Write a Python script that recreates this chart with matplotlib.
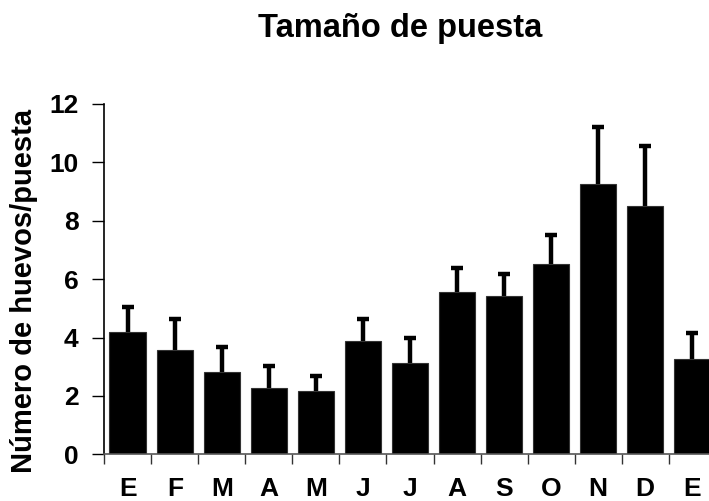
import matplotlib
matplotlib.use("Agg")
import matplotlib.pyplot as plt
import numpy as np

months = ["E", "F", "M", "A", "M", "J", "J", "A", "S", "O", "N", "D", "E"]
means = [4.18, 3.56, 2.83, 2.28, 2.17, 3.88, 3.14, 5.57, 5.42, 6.51, 9.26, 8.51, 3.25]
upper = [5.03, 4.64, 3.68, 3.03, 2.69, 4.64, 3.97, 6.37, 6.19, 7.50, 11.22, 10.56, 4.17]
yticks = [0, 2, 4, 6, 8, 10, 12]

plt.rcParams['font.family'] = ['Liberation Sans', 'DejaVu Sans']
plt.rcParams['font.weight'] = 'bold'

fig = plt.figure(figsize=(7.09, 5.01), dpi=100)
W, H = 709, 501
left, right = 104.3, 715.7
bottom, top = 454.3, 104.0
ax = fig.add_axes([left / W, 1 - bottom / H, (right - left) / W, (bottom - top) / H])

x = np.arange(len(months))
err = np.array(upper) - np.array(means)
ax.bar(x, means, width=0.78, color='black', edgecolor='#333333', linewidth=0.8, zorder=2)
eb = ax.errorbar(x, means, yerr=[np.zeros_like(err), err], fmt='none', ecolor='black',
                 elinewidth=3.2, capsize=4.5, capthick=3.2, zorder=1)
eb[1][0].set_visible(False)

ax.set_xlim(-0.5, len(months) - 0.5)
ax.set_ylim(0, 12)
ax.set_yticks(yticks)
ax.set_yticklabels([str(v) for v in yticks], fontsize=19, fontweight='bold')
ax.set_xticks(x)
ax.set_xticklabels(months, fontsize=19, fontweight='bold')
ax.set_xticks(np.arange(len(months)) - 0.5, minor=True)
ax.tick_params(axis='x', which='major', length=0, pad=16.5)
ax.tick_params(axis='x', which='minor', length=7, width=1, color='#333333')
ax.tick_params(axis='y', which='major', length=9, width=1, pad=9.5)

for s in ['top', 'right']:
    ax.spines[s].set_visible(False)
ax.spines['left'].set_linewidth(1.2)
ax.spines['bottom'].set_linewidth(1.2)
ax.spines['bottom'].set_color('#555555')

fig.text(24 / W, 1 - 291 / H, "Número de huevos/puesta", fontsize=21, fontweight='bold',
         rotation=90, ha='center', va='center')
fig.text(400 / W, 1 - 28 / H, "Tamaño de puesta", fontsize=23.5, fontweight='bold',
         ha='center', va='center')

fig.savefig("out.png", dpi=100)
